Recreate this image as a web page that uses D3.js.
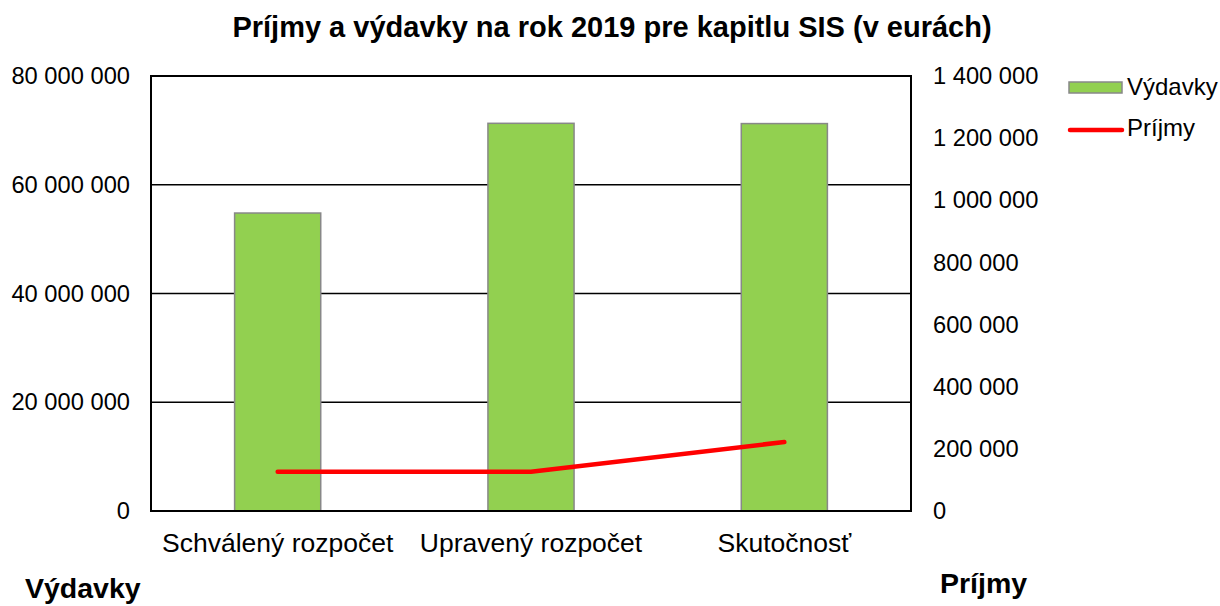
<!DOCTYPE html>
<html lang="sk">
<head>
<meta charset="UTF-8">
<title>Príjmy a výdavky SIS 2019</title>
<style>
  body { margin: 0; background: #fff; }
  text { font-family: "Liberation Sans", Arial, sans-serif; fill: #000; }
  .tick text { font-size: 23.7px; }
  .axis--x .tick text { font-size: 26.5px; }
  .axis path { display: none; }
  .axis line { display: none; }
</style>
</head>
<body>
<svg width="1220" height="606"></svg>
<script src="https://d3js.org/d3.v7.min.js"></script>
<script>
// data
const categories = ['Schválený rozpočet', 'Upravený rozpočet', 'Skutočnosť'];
const vydavky = [54800000, 71300000, 71250000];
const prijmy = [126500, 126500, 222000];
const leftTicks = [0, 20000000, 40000000, 60000000, 80000000];
const rightTicks = [0, 200000, 400000, 600000, 800000, 1000000, 1200000, 1400000];

const svg = d3.select('svg');
const m = { top: 76, right: 309, bottom: 95, left: 151 };
const W = 1220 - m.left - m.right;
const H = 606 - m.top - m.bottom;

const g = svg.append('g').attr('transform', `translate(${m.left},${m.top})`);

const x = d3.scaleBand().domain(categories).range([0, W]).paddingInner(0.66).paddingOuter(0.33);
const yL = d3.scaleLinear().domain([0, 80000000]).range([H, 0]);
const yR = d3.scaleLinear().domain([0, 1400000]).range([H, 0]);

const fmt = d => d3.format(',')(d).replace(/,/g, ' ');

// gridlines
g.selectAll('.grid').data(leftTicks).enter().append('line')
  .attr('x1', 0).attr('x2', W)
  .attr('y1', d => yL(d)).attr('y2', d => yL(d))
  .attr('stroke', '#000').attr('stroke-width', 1.5);

// bars
g.selectAll('.bar').data(vydavky).enter().append('rect')
  .attr('x', (d, i) => x(categories[i]))
  .attr('y', d => yL(d))
  .attr('width', x.bandwidth())
  .attr('height', d => H - yL(d))
  .attr('fill', '#92d050').attr('stroke', '#888').attr('stroke-width', 1.5);

// frame
g.append('rect').attr('x', 0).attr('y', 0).attr('width', W).attr('height', H)
  .attr('fill', 'none').attr('stroke', '#000').attr('stroke-width', 2);

// line
const line = d3.line()
  .x((d, i) => x(categories[i]) + x.bandwidth() / 2)
  .y(d => yR(d));
g.append('path').datum(prijmy)
  .attr('d', line).attr('fill', 'none')
  .attr('stroke', '#ff0000').attr('stroke-width', 4.5)
  .attr('stroke-linecap', 'round').attr('stroke-linejoin', 'round');

// axes
g.append('g').attr('class', 'axis')
  .call(d3.axisLeft(yL).tickValues(leftTicks).tickFormat(fmt).tickSize(0).tickPadding(21));
g.append('g').attr('class', 'axis').attr('transform', `translate(${W},0)`)
  .call(d3.axisRight(yR).tickValues(rightTicks).tickFormat(fmt).tickSize(0).tickPadding(22));
g.append('g').attr('class', 'axis axis--x').attr('transform', `translate(0,${H})`)
  .call(d3.axisBottom(x).tickSize(0).tickPadding(22));

// title
svg.append('text').attr('x', 612).attr('y', 37).attr('text-anchor', 'middle')
  .style('font-size', '29px').style('font-weight', 'bold')
  .text('Príjmy a výdavky na rok 2019 pre kapitlu SIS (v eurách)');

// axis titles
svg.append('text').attr('x', 25).attr('y', 598)
  .style('font-size', '28.5px').style('font-weight', 'bold').text('Výdavky');
svg.append('text').attr('x', 940).attr('y', 593)
  .style('font-size', '28.5px').style('font-weight', 'bold').text('Príjmy');

// legend
const lg = svg.append('g');
lg.append('rect').attr('x', 1069).attr('y', 82).attr('width', 53).attr('height', 11)
  .attr('fill', '#92d050').attr('stroke', '#888').attr('stroke-width', 1.5);
lg.append('text').attr('x', 1127).attr('y', 95).style('font-size', '24px').text('Výdavky');
lg.append('line').attr('x1', 1070).attr('x2', 1122).attr('y1', 130).attr('y2', 130)
  .attr('stroke', '#ff0000').attr('stroke-width', 4.5).attr('stroke-linecap', 'round');
lg.append('text').attr('x', 1127).attr('y', 136).style('font-size', '24px').text('Príjmy');
</script>
</body>
</html>
